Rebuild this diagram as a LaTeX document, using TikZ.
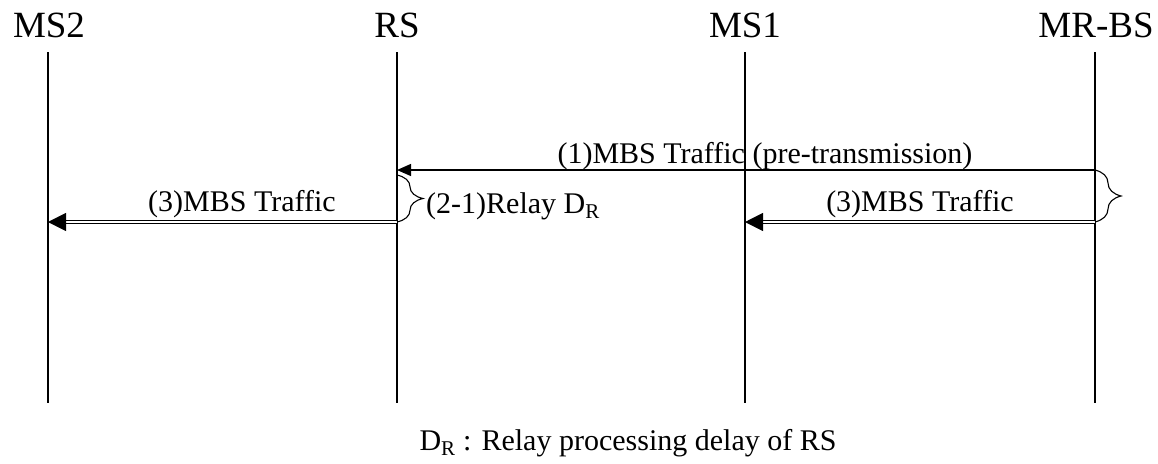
\documentclass[tikz,border=0pt]{standalone}
\usepackage{fontspec}
\setmainfont{Liberation Serif}
\usetikzlibrary{arrows.meta,decorations.pathreplacing,calc}
\begin{document}
\begin{tikzpicture}[x=1pt,y=-1pt,
  title/.style={anchor=base,inner sep=0pt,font=\fontsize{37}{40}\selectfont},
  lbl/.style={anchor=base,inner sep=0pt,font=\fontsize{30}{34}\selectfont},
  life/.style={line width=1.4pt},
  msg/.style={line width=1.4pt,-{Triangle[length=14pt,width=12pt]}},
  dbl/.style={double,double distance=2.6pt,line width=1.1pt},
  dhead/.style={line width=0.5pt,-{Triangle[length=18pt,width=18pt]}},
  brc/.style={line width=1.1pt,decorate,decoration={brace,amplitude=26pt}}]
\useasboundingbox (0,0) rectangle (1158,463);
% titles
\node[title] (tms2) at (49,37) {MS2};
\node[title] (trs) at (397,37) {RS};
\node[title] (tms1) at (745,37) {MS1};
\node[title] (tbs) at (1096,37) {MR-BS};
% lifelines
\coordinate (ms2t) at (48,52);  \coordinate (ms2b) at (48,403);
\coordinate (rst) at (397,52);  \coordinate (rsb) at (397,403);
\coordinate (ms1t) at (745,52); \coordinate (ms1b) at (745,403);
\coordinate (bst) at (1095,52); \coordinate (bsb) at (1095,403);
\draw[life] (ms2t) -- (ms2b);
\draw[life] (rst) -- (rsb);
\draw[life] (ms1t) -- (ms1b);
\draw[life] (bst) -- (bsb);
% (1) message
\coordinate (bs1) at (1095,170);
\coordinate (rs1) at (397,170);
\draw[msg] (bs1) -- (rs1);
\node[lbl] (l1) at (765,163) {(1)MBS Traffic (pre-transmission)};
% (3) messages
\coordinate (bs3) at (1095,222);
\coordinate (ms13) at (745,222);
\coordinate (rs3) at (397,222);
\coordinate (ms23) at (48,222);
\draw[dbl,shorten >=16pt] (bs3) -- (ms13);
\draw[dhead] ($(ms13)+(17,0)$) -- (ms13);
\draw[dbl,shorten >=16pt] (rs3) -- (ms23);
\draw[dhead] ($(ms23)+(17,0)$) -- (ms23);
\node[lbl] (l3a) at (920,211) {(3)MBS Traffic};
\node[lbl] (l3b) at (242,211) {(3)MBS Traffic};
% braces
\coordinate (rsbt) at (397,175);
\coordinate (rsbb) at (397,222);
\draw[brc] (rsbt) -- (rsbb);
\node[lbl,anchor=base west] (l21) at (426,213) {(2-1)Relay D\textsubscript{R}};
\coordinate (bsbt) at (1095,170);
\coordinate (bsbb) at (1095,222);
\draw[brc] (bsbt) -- (bsbb);
% footnote
\node[lbl] (foot) at (628,450) {D\textsubscript{R} : Relay processing delay of RS};
\end{tikzpicture}
\end{document}
